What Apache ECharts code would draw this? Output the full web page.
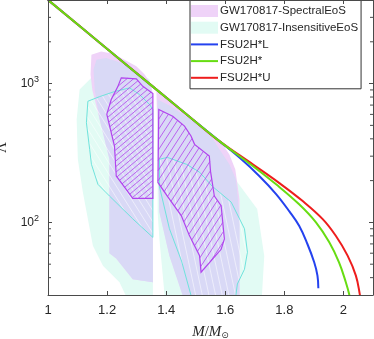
<!DOCTYPE html>
<html>
<head>
<meta charset="utf-8">
<script src="https://cdn.jsdelivr.net/npm/echarts@6/dist/echarts.min.js"></script>
<style>
    html, body { margin: 0; padding: 0; background: #fff; }
    #chart { width: 374px; height: 339px; }
</style>
</head>
<body>
<div id="chart"></div>
<script>
    // axis ranges and minor ticks
    const massMin = 1, massMax = 2.1;
    const lambdaMin = 30, lambdaMax = 4000;
    const lambdaMinorTicks = [40, 50, 60, 70, 80, 90, 200, 300, 400, 500, 600, 700, 800, 900, 2000, 3000];

    // GW170817 regions, [M, Lambda]
    const insensitiveFillLeft = [[1.097, 552], [1.107, 906], [1.141, 1069], [1.175, 1262], [1.242, 1486], [1.344, 1069], [1.355, 768], [1.355, 25], [1.280, 25], [1.242, 37], [1.186, 48.8], [1.152, 68], [1.118, 165], [1.101, 285]];
    const insensitiveFillRight = [[1.371, 468], [1.513, 396], [1.597, 285], [1.641, 195], [1.708, 125], [1.732, 57.3], [1.722, 25], [1.398, 25], [1.377, 76], [1.371, 119]];
    const spectralOuterLeft = [[1.147, 1615], [1.180, 1706], [1.220, 1642], [1.259, 1486], [1.299, 1331], [1.327, 1161], [1.349, 984], [1.355, 834], [1.355, 37], [1.287, 39], [1.231, 55], [1.208, 60], [1.208, 285], [1.175, 552], [1.150, 900], [1.144, 1161]];
    const spectralOuterRight = [[1.367, 880], [1.394, 790], [1.445, 660], [1.496, 543], [1.546, 445], [1.587, 377], [1.614, 309], [1.634, 241], [1.641, 188], [1.648, 147], [1.648, 25], [1.468, 25], [1.411, 57.6], [1.377, 119], [1.371, 336]];
    const spectralInnerLeft = [[1.164, 1486], [1.197, 1529], [1.242, 1422], [1.287, 1275], [1.316, 1128], [1.344, 956], [1.355, 834], [1.355, 37], [1.287, 39], [1.231, 55], [1.208, 60], [1.208, 285], [1.175, 552], [1.158, 906], [1.154, 1262]];
    const spectralInnerRight = [[1.371, 768], [1.411, 695], [1.462, 589], [1.513, 500], [1.546, 438], [1.580, 336], [1.614, 262], [1.636, 205], [1.648, 112], [1.648, 25], [1.468, 25], [1.411, 57.6], [1.377, 119], [1.371, 336]];
    const insensitiveContourLeft = [[1.135, 746], [1.175, 806], [1.225, 876], [1.276, 931], [1.310, 834], [1.344, 706], [1.355, 650], [1.355, 78], [1.287, 106], [1.208, 155], [1.169, 188], [1.147, 262], [1.141, 336], [1.130, 522]];
    const insensitiveContourRight = [[1.377, 285], [1.404, 294], [1.469, 262], [1.513, 230], [1.556, 182], [1.580, 165], [1.620, 140], [1.665, 90], [1.675, 61], [1.665, 46], [1.641, 36], [1.631, 25], [1.494, 25], [1.452, 52.7], [1.411, 90], [1.377, 182]];
    const spectralContourLeft = [[1.248, 1099], [1.299, 1081], [1.321, 956], [1.355, 848], [1.355, 149], [1.287, 149], [1.231, 216], [1.225, 355], [1.199, 602], [1.214, 768], [1.236, 947]];
    const spectralContourRight = [[1.375, 650], [1.422, 582], [1.462, 494], [1.484, 419], [1.496, 365], [1.546, 301], [1.550, 234], [1.563, 155], [1.586, 132], [1.597, 76], [1.586, 64], [1.518, 43.8], [1.513, 57.6], [1.479, 80], [1.451, 112], [1.411, 147], [1.372, 194]];

    // M-Lambda curves
    const fsu2hL = [[1.0, 4009], [1.175, 1970], [1.355, 951], [1.490, 551], [1.580, 385], [1.648, 293], [1.715, 216], [1.772, 160], [1.817, 120], [1.850, 94.5], [1.878, 69.9], [1.901, 51.6], [1.912, 41.4], [1.915, 33.6]];
    const fsu2h = [[1.0, 4009], [1.175, 1970], [1.355, 951], [1.490, 551], [1.580, 385], [1.693, 255], [1.772, 188], [1.850, 135], [1.907, 100], [1.952, 71.9], [1.985, 51.6], [2.008, 37.1], [2.019, 30.6], [2.023, 27]];
    const fsu2hU = [[1.0, 4009], [1.175, 1970], [1.355, 951], [1.490, 551], [1.580, 385], [1.693, 262], [1.783, 192], [1.861, 143], [1.929, 106], [1.974, 80.1], [2.014, 57.6], [2.042, 41.4], [2.055, 30.6], [2.058, 27]];

    const pink = '#efd3f8', lavender = '#d9d9f6', cyanFill = '#e2fbf4';
    const cyanLine = '#6fe3dc', purple = '#b144ee';
    const blue = '#2442ef', green = '#67dd12', red = '#ee1d1d';
    const axisColor = '#4a4a4a', textColor = '#262626';
    const lineIcon = 'path://M0,0H27V2H0Z';

    function toPx(api, pts) {
        return pts.map(p => api.coord(p));
    }

    // straight hatch lines clipped to a polygon (pixel space)
    function hatch(pts, angle, gap, style) {
        const a = angle * Math.PI / 180;
        const dx = Math.cos(a), dy = Math.sin(a), nx = -dy, ny = dx;
        const ts = pts.map(p => p[0] * nx + p[1] * ny);
        const lo = Math.min(...ts), hi = Math.max(...ts);
        const out = [];
        for (let t = Math.ceil(lo / gap) * gap; t < hi; t += gap) {
            const hits = [];
            for (let i = 0; i < pts.length; i++) {
                const j = (i + 1) % pts.length;
                const tp = ts[i], tq = ts[j];
                if ((tp <= t && tq > t) || (tq <= t && tp > t)) {
                    const k = (t - tp) / (tq - tp);
                    const x = pts[i][0] + (pts[j][0] - pts[i][0]) * k;
                    const y = pts[i][1] + (pts[j][1] - pts[i][1]) * k;
                    hits.push([x * dx + y * dy, x, y]);
                }
            }
            hits.sort((u, v) => u[0] - v[0]);
            for (let h = 0; h + 1 < hits.length; h += 2) {
                out.push({
                    type: 'line',
                    shape: { x1: hits[h][1], y1: hits[h][2], x2: hits[h + 1][1], y2: hits[h + 1][2] },
                    style: style
                });
            }
        }
        return out;
    }

    function fillPolygon(api, pts, color) {
        return { type: 'polygon', shape: { points: toPx(api, pts) }, style: { fill: color, stroke: null } };
    }

    const chart = echarts.init(document.getElementById('chart'));

    const option = {
        animation: false,
        backgroundColor: '#fff',
        grid: { left: 48, right: 1, top: 0, bottom: 44, outerBoundsMode: 'none', containLabel: false },
        legend: {
            orient: 'vertical',
            left: 190,
            top: 0,
            padding: [5, 3, 5, 1],
            itemGap: 4.7,
            itemWidth: 27,
            itemHeight: 12,
            backgroundColor: '#fff',
            borderColor: '#333',
            borderWidth: 1,
            borderRadius: 0,
            textStyle: { fontFamily: 'Liberation Sans', fontSize: 11.5, color: textColor, padding: [0, 0, 0, -3] },
            data: [
                { name: 'GW170817-SpectralEoS', icon: 'rect', itemStyle: { color: pink } },
                { name: 'GW170817-InsensitiveEoS', icon: 'rect', itemStyle: { color: cyanFill } },
                { name: 'FSU2H*L', icon: lineIcon, itemStyle: { color: blue } },
                { name: 'FSU2H*', icon: lineIcon, itemStyle: { color: green } },
                { name: 'FSU2H*U', icon: lineIcon, itemStyle: { color: red } }
            ]
        },
        xAxis: [
            {
                type: 'value',
                min: massMin,
                max: massMax,
                interval: 0.2,
                z: 10,
                name: '{i|M}{n|/}{i|M}{s|⊙}',
                nameLocation: 'middle',
                nameGap: 30,
                nameTextStyle: {
                    rich: {
                        i: { fontFamily: 'Liberation Serif', fontStyle: 'italic', fontSize: 15, color: textColor },
                        n: { fontFamily: 'Liberation Serif', fontSize: 15, color: textColor },
                        s: { fontFamily: 'DejaVu Sans', fontSize: 9, color: textColor, padding: [6, 0, 0, 0] }
                    }
                },
                axisLine: { lineStyle: { color: axisColor, width: 1 } },
                axisTick: { inside: true, length: 4, lineStyle: { color: axisColor } },
                axisLabel: { showMaxLabel: false, margin: 9, fontFamily: 'Liberation Sans', fontSize: 13, color: textColor },
                splitLine: { show: false }
            },
            {
                type: 'value',
                min: massMin,
                max: massMax,
                interval: 0.2,
                position: 'top',
                z: 10,
                axisLine: { show: true, lineStyle: { color: axisColor, width: 1 } },
                axisTick: { inside: true, length: 4, lineStyle: { color: axisColor } },
                axisLabel: { show: false },
                splitLine: { show: false }
            }
        ],
        yAxis: [
            {
                type: 'log',
                min: lambdaMin,
                max: lambdaMax,
                z: 10,
                name: 'Λ',
                nameLocation: 'middle',
                nameRotate: 90,
                nameGap: 36,
                nameTextStyle: { fontFamily: 'Liberation Serif', fontSize: 15, color: textColor },
                axisLine: { show: true, lineStyle: { color: axisColor, width: 1 } },
                axisTick: { inside: true, length: 4, lineStyle: { color: axisColor } },
                axisLabel: {
                    margin: 9,
                    formatter: function (v) {
                        const l = Math.log10(v), e = Math.round(l);
                        if (Math.abs(l - e) > 1e-6) return '';
                        return '{b|10}{s|' + e + '}';
                    },
                    rich: {
                        b: { fontFamily: 'Liberation Sans', fontSize: 12, color: textColor },
                        s: { fontFamily: 'Liberation Sans', fontSize: 9, color: textColor, padding: [0, 0, 8, 0] }
                    }
                },
                splitLine: { show: false }
            },
            {
                type: 'log',
                min: lambdaMin,
                max: lambdaMax,
                position: 'right',
                z: 10,
                axisLine: { show: true, lineStyle: { color: axisColor, width: 1 } },
                axisTick: { inside: true, length: 4, lineStyle: { color: axisColor } },
                axisLabel: { show: false },
                splitLine: { show: false }
            }
        ],
        series: [
            {
                name: 'GW170817-InsensitiveEoS',
                type: 'custom',
                clip: true,
                silent: true,
                z: 1,
                itemStyle: { color: cyanFill },
                data: [[1.5, 100]],
                renderItem: function (params, api) {
                    return {
                        type: 'group',
                        children: [
                            fillPolygon(api, insensitiveFillLeft, cyanFill),
                            fillPolygon(api, insensitiveFillRight, cyanFill)
                        ]
                    };
                }
            },
            {
                name: 'GW170817-SpectralEoS',
                type: 'custom',
                clip: true,
                silent: true,
                z: 2,
                itemStyle: { color: pink },
                data: [[1.5, 100]],
                renderItem: function (params, api) {
                    return {
                        type: 'group',
                        children: [
                            fillPolygon(api, spectralOuterLeft, pink),
                            fillPolygon(api, spectralOuterRight, pink),
                            fillPolygon(api, spectralInnerLeft, lavender),
                            fillPolygon(api, spectralInnerRight, lavender)
                        ]
                    };
                }
            },
            {
                name: 'insensitiveContour',
                type: 'custom',
                clip: true,
                silent: true,
                z: 3,
                data: [[1.5, 100]],
                renderItem: function (params, api) {
                    const left = toPx(api, insensitiveContourLeft);
                    const right = toPx(api, insensitiveContourRight);
                    const white = { stroke: 'rgba(255,255,255,0.75)', lineWidth: 0.7 };
                    const kids = []
                        .concat(hatch(left, 58, 6, white))
                        .concat(hatch(right, 78, 6.5, white));
                    kids.push({ type: 'polygon', shape: { points: left }, style: { fill: null, stroke: cyanLine, lineWidth: 1 } });
                    kids.push({ type: 'polygon', shape: { points: right }, style: { fill: null, stroke: cyanLine, lineWidth: 1 } });
                    return { type: 'group', children: kids };
                }
            },
            {
                name: 'spectralContour',
                type: 'custom',
                clip: true,
                silent: true,
                z: 4,
                data: [[1.5, 100]],
                renderItem: function (params, api) {
                    const left = toPx(api, spectralContourLeft);
                    const right = toPx(api, spectralContourRight);
                    const line = { stroke: purple, lineWidth: 0.8 };
                    const kids = []
                        .concat(hatch(left, -40, 4.3, line))
                        .concat(hatch(right, -57, 5.5, line));
                    kids.push({ type: 'polygon', shape: { points: left }, style: { fill: null, stroke: purple, lineWidth: 1.2 } });
                    kids.push({ type: 'polygon', shape: { points: right }, style: { fill: null, stroke: purple, lineWidth: 1.2 } });
                    return { type: 'group', children: kids };
                }
            },
            {
                name: 'minorTicks',
                type: 'custom',
                silent: true,
                clip: false,
                z: 11,
                data: lambdaMinorTicks.map(v => [massMin, v]),
                renderItem: function (params, api) {
                    const v = api.value(1);
                    const l = api.coord([massMin, v]);
                    const r = api.coord([massMax, v]);
                    const st = { stroke: axisColor, lineWidth: 1 };
                    return {
                        type: 'group',
                        children: [
                            { type: 'line', shape: { x1: l[0], y1: l[1], x2: l[0] + 3, y2: l[1] }, style: st },
                            { type: 'line', shape: { x1: r[0], y1: r[1], x2: r[0] - 3, y2: r[1] }, style: st }
                        ]
                    };
                }
            },
            {
                name: 'FSU2H*L',
                type: 'line',
                z: 5,
                data: fsu2hL,
                symbol: 'none',
                smooth: 0.4,
                color: blue,
                lineStyle: { width: 2, color: blue }
            },
            {
                name: 'FSU2H*U',
                type: 'line',
                z: 6,
                data: fsu2hU,
                symbol: 'none',
                smooth: 0.4,
                color: red,
                lineStyle: { width: 2, color: red }
            },
            {
                name: 'FSU2H*',
                type: 'line',
                z: 7,
                data: fsu2h,
                symbol: 'none',
                smooth: 0.4,
                color: green,
                lineStyle: { width: 2, color: green }
            }
        ]
    };

    chart.setOption(option);
</script>
</body>
</html>
